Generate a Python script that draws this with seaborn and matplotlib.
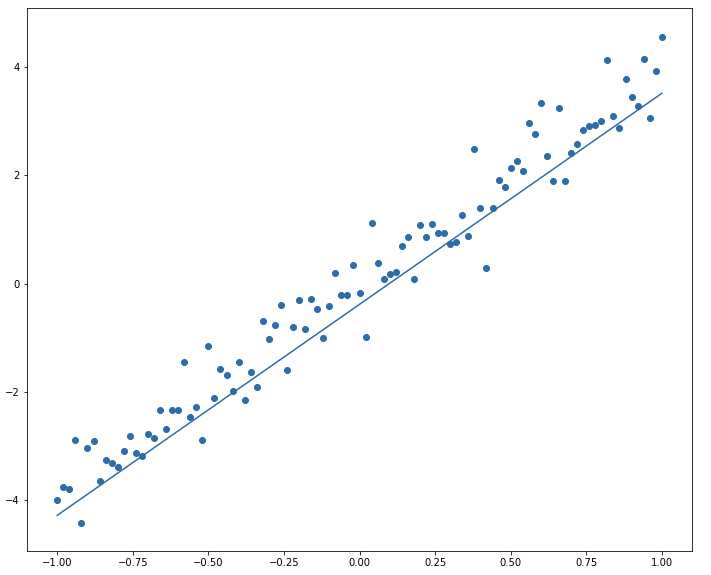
import numpy as np
import matplotlib
matplotlib.use("Agg")
import matplotlib.pyplot as plt
import seaborn as sns
import pandas as pd

# x positions: -1.00 to 1.00 in steps of 0.02
x_vals = np.round(np.arange(-100, 101, 2) / 100, 2)

y_vals = [
    -4.01, -3.77, -3.80, -2.89, -4.44, -3.05, -2.91, -3.65, -3.26, -3.33,
    -3.39, -3.09, -2.82, -3.13, -3.19, -2.79, -2.86, -2.34, -2.70, -2.34,
    -2.34, -1.46, -2.47, -2.28, -2.89, -1.16, -2.12, -1.59, -1.70, -1.99,
    -1.46, -2.16, -1.64, -1.92, -0.69, -1.03, -0.76, -0.40, -1.60, -0.80,
    -0.30, -0.85, -0.28, -0.48, -1.00, -0.41, 0.20, -0.22, -0.22, 0.35,
    -0.17, -0.98, 1.12, 0.38, 0.09, 0.18, 0.22, 0.69, 0.86, 0.09,
    1.08, 0.86, 1.10, 0.93, 0.93, 0.74, 0.76, 1.26, 0.88, 2.49,
    1.39, 0.29, 1.39, 1.91, 1.78, 2.13, 2.27, 2.09, 2.97, 2.77,
    3.35, 2.37, 1.89, 3.25, 1.89, 2.42, 2.59, 2.84, 2.92, 2.94,
    3.01, 4.13, 3.10, 2.88, 3.78, 3.45, 3.28, 4.15, 3.06, 3.93,
    4.57,
]

# fitted line end points
line_x = [-1.0, 1.0]
line_y = [-4.29, 3.52]

blue = '#2d6ca6'

df = pd.DataFrame({'x': x_vals, 'y': y_vals})
line_df = pd.DataFrame({'x': line_x, 'y': line_y})

fig = plt.figure(figsize=(711 / 72, 575 / 72), dpi=72)
ax = fig.add_axes([27 / 711, 1 - 551 / 575, 665 / 711, 543 / 575])

sns.scatterplot(data=df, x='x', y='y', color=blue, s=36,
                edgecolor=blue, linewidth=1, ax=ax)
sns.lineplot(data=line_df, x='x', y='y', color=blue, linewidth=1.5, ax=ax)

ax.set_xlabel('')
ax.set_ylabel('')
ax.set_xticks([-1.0, -0.75, -0.5, -0.25, 0.0, 0.25, 0.5, 0.75, 1.0])
ax.set_yticks([-4, -2, 0, 2, 4])
ax.set_xlim(-1.1, 1.1)
ax.set_ylim(-4.95, 5.1)

fig.savefig('out.png', dpi=72, facecolor='white')
plt.close(fig)
